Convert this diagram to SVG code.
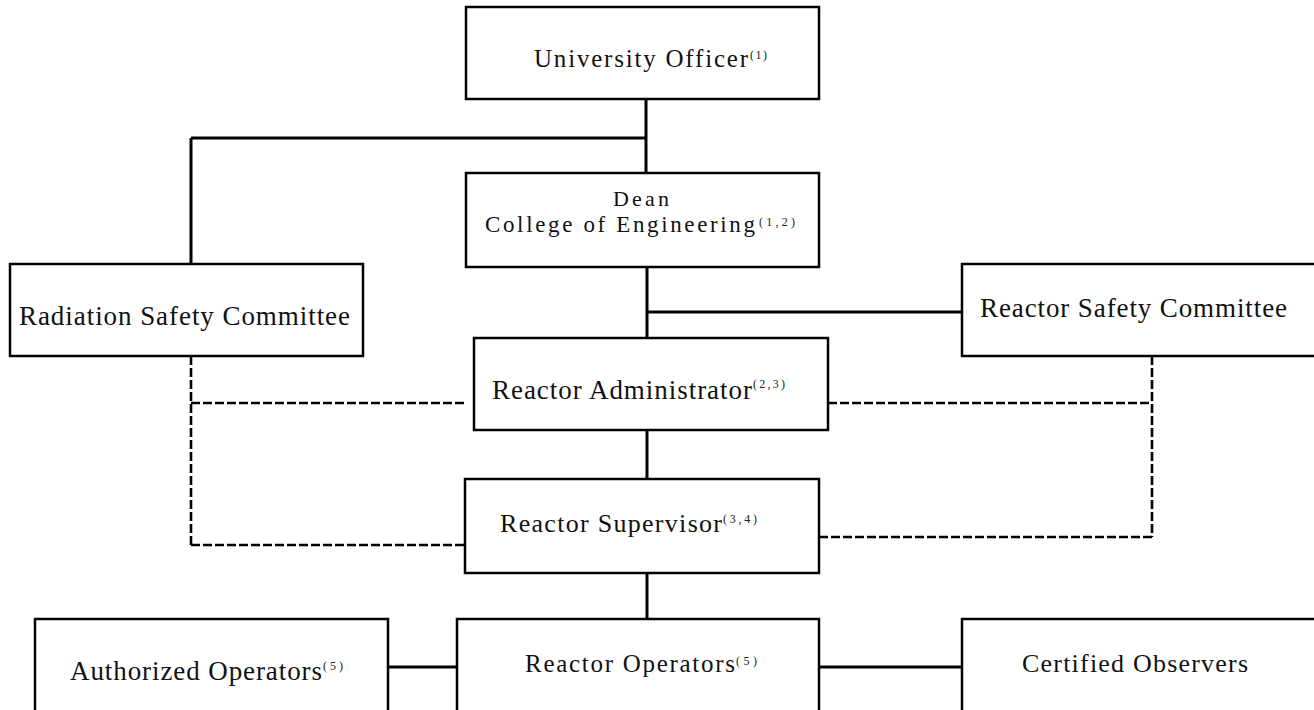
<svg xmlns="http://www.w3.org/2000/svg" width="1314" height="710" viewBox="0 0 1314 710">
<style>
.box{fill:#fff;stroke:#000;stroke-width:2.5}
.t{font-family:"Liberation Serif","Times New Roman",serif;font-size:25px;fill:#111}
.s{font-family:"Liberation Serif","Times New Roman",serif;font-size:12px;fill:#222}
.ln{stroke:#000;stroke-width:3;fill:none}
.dl{stroke:#000;stroke-width:2.6;fill:none;stroke-dasharray:9 3}
</style>
<rect width="1314" height="710" fill="#fff"/>
<g id="connectors">
<path class="ln" d="M646 99V173M191 138H646M191 138V264"/>
<path class="ln" d="M647 267V338M647 312H962"/>
<path class="ln" d="M647 430V479"/>
<path class="ln" d="M647 573V619"/>
<path class="ln" d="M388 667H457M819 667H962"/>
<path class="dl" d="M191 356V548M191 403H466M191 545H465"/>
<path class="dl" d="M1152 356V537M828 403H1152M819 537H1152"/>
</g>
<g id="university-officer">
<rect class="box" x="466" y="7" width="353" height="92"/>
<text class="t" x="534" y="67" textLength="214" lengthAdjust="spacing" style="font-size:25px">University Officer</text>
<text class="s" x="750" y="59" textLength="17" lengthAdjust="spacing">(1)</text>
</g>
<g id="dean">
<rect class="box" x="466" y="173" width="353" height="94"/>
<text class="t" x="613" y="206" textLength="56" lengthAdjust="spacing" style="font-size:22px">Dean</text>
<text class="t" x="485" y="232" textLength="270" lengthAdjust="spacing" style="font-size:23px">College of Engineering</text>
<text class="s" x="759" y="226" textLength="36" lengthAdjust="spacing">(1,2)</text>
</g>
<g id="radiation-safety-committee">
<rect class="box" x="10" y="264" width="353" height="92"/>
<text class="t" x="19" y="325" textLength="331" lengthAdjust="spacing" style="font-size:27px">Radiation Safety Committee</text>
</g>
<g id="reactor-safety-committee">
<rect class="box" x="962" y="264" width="360" height="92"/>
<text class="t" x="980" y="317" textLength="307" lengthAdjust="spacing" style="font-size:27px">Reactor Safety Committee</text>
</g>
<g id="reactor-administrator">
<rect class="box" x="474" y="338" width="354" height="92"/>
<text class="t" x="492" y="399" textLength="260" lengthAdjust="spacing" style="font-size:27px">Reactor Administrator</text>
<text class="s" x="753" y="388" textLength="32" lengthAdjust="spacing">(2,3)</text>
</g>
<g id="reactor-supervisor">
<rect class="box" x="465" y="479" width="354" height="94"/>
<text class="t" x="500" y="532" textLength="222" lengthAdjust="spacing" style="font-size:26px">Reactor Supervisor</text>
<text class="s" x="723" y="523" textLength="34" lengthAdjust="spacing">(3,4)</text>
</g>
<g id="authorized-operators">
<rect class="box" x="35" y="619" width="353" height="100"/>
<text class="t" x="70" y="680" textLength="252" lengthAdjust="spacing" style="font-size:27px">Authorized Operators</text>
<text class="s" x="323" y="670" textLength="20" lengthAdjust="spacing">(5)</text>
</g>
<g id="reactor-operators">
<rect class="box" x="457" y="619" width="362" height="100"/>
<text class="t" x="525" y="672" textLength="210" lengthAdjust="spacing" style="font-size:25px">Reactor Operators</text>
<text class="s" x="736" y="665" textLength="21" lengthAdjust="spacing">(5)</text>
</g>
<g id="certified-observers">
<rect class="box" x="962" y="619" width="360" height="100"/>
<text class="t" x="1022" y="672" textLength="226" lengthAdjust="spacing" style="font-size:26px">Certified Observers</text>
</g>
</svg>
